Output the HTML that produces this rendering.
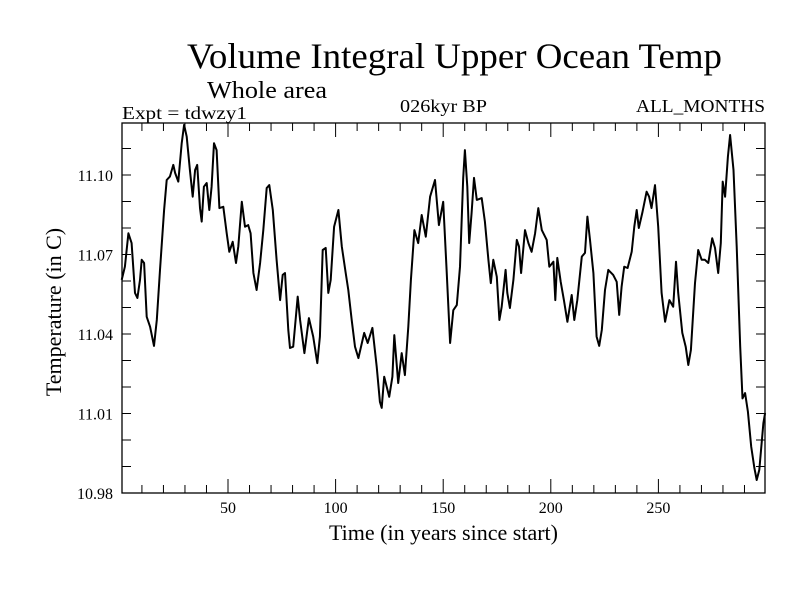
<!DOCTYPE html>
<html><head><meta charset="utf-8"><style>
body{margin:0;background:#fff}
svg text{font-family:"Liberation Serif",serif;fill:#000}
</style></head><body>
<svg id="chart" width="800" height="600" xmlns="http://www.w3.org/2000/svg">
<text x="187" y="68" font-size="36" textLength="535" lengthAdjust="spacingAndGlyphs">Volume Integral Upper Ocean Temp</text>
<text x="207" y="98" font-size="24" textLength="120" lengthAdjust="spacingAndGlyphs">Whole area</text>
<text x="122" y="119" font-size="18" textLength="125" lengthAdjust="spacingAndGlyphs">Expt = tdwzy1</text>
<text x="400" y="112" font-size="18" textLength="87" lengthAdjust="spacingAndGlyphs">026kyr BP</text>
<text x="636" y="112" font-size="18" textLength="129" lengthAdjust="spacingAndGlyphs">ALL_MONTHS</text>
<text x="329" y="540" font-size="22" textLength="229" lengthAdjust="spacingAndGlyphs">Time (in years since start)</text>
<text transform="translate(61,312) rotate(-90)" font-size="22" text-anchor="middle">Temperature (in C)</text>
<g id="axes"></g>
</svg>
<script>
const years=[0.6,2.1,3.7,5.2,6.8,7.9,9.1,9.9,11,12.2,13.8,15.6,16.9,18.4,20.3,21.5,23,24.6,25.4,26.9,28.5,29.6,30.8,32.3,33.6,34.7,35.7,37,37.8,38.8,40.1,41.3,42.4,43.5,44.7,46,47.8,49.4,50.6,52.2,53.7,54.8,56.4,57.9,59.4,60.5,61.8,63.3,64.9,66.4,68,69.2,70.8,72.6,74.2,75.4,76.5,78,78.8,80.3,82.4,83.5,85.5,87.6,89.6,91.5,92.7,94,95.4,96.6,97.7,99.3,101.3,102.9,104.7,105.9,107.5,109,110.6,113.3,114.9,117.1,119.1,120.6,121.4,122.6,124.9,126.4,127.3,129.1,130.7,132.2,133.8,135,136.6,138.4,140,141.9,143.9,146.2,148,150,151.6,153.2,154.7,156.3,157.8,159.3,160.1,161.2,162.1,163.2,164.3,165.6,167.9,169.4,171,172.1,173.3,174.9,176.1,177.2,179,179.8,181,182.6,184.2,185.2,186.2,188,189.6,191.1,192.7,194.2,195.8,198.1,199.3,201.2,202.1,203,204.6,206.1,207.7,209.7,210.9,212.3,214.4,215.9,217,218.2,219.8,221.3,222.5,223.7,225.2,226.7,229,230.6,231.8,232.9,234.1,235.7,237.6,238.8,239.9,240.9,242.5,244.5,245.7,246.8,248.4,249.9,251.5,253.1,255.1,256.9,258.2,259.2,261.1,262.7,263.9,265.1,267,268.5,270.1,271.6,273.2,275,276.3,277.8,279,279.9,281,282.3,283.3,284.9,286.4,288,289.1,290.3,291.6,293.1,294.6,295.7,296.9,298.8,299.6];
const temps=[11.0604,11.0654,11.078,11.0743,11.0555,11.0536,11.0604,11.068,11.0668,11.0465,11.0427,11.0355,11.0453,11.0642,11.0868,11.0981,11.0994,11.1038,11.1008,11.0975,11.112,11.1189,11.1145,11.1019,11.0918,11.1019,11.1038,11.0875,11.0824,11.0956,11.097,11.0868,11.0956,11.112,11.1094,11.0875,11.088,11.078,11.071,11.0748,11.0668,11.073,11.0899,11.0805,11.0811,11.078,11.063,11.0566,11.0668,11.0792,11.0951,11.0962,11.0868,11.068,11.0528,11.0623,11.063,11.0415,11.0347,11.0352,11.0541,11.0453,11.0328,11.046,11.039,11.029,11.039,11.0717,11.0725,11.0555,11.0604,11.0805,11.0868,11.073,11.063,11.0566,11.0453,11.0352,11.0309,11.0404,11.0366,11.0423,11.0277,11.0144,11.0121,11.0239,11.0163,11.0239,11.0396,11.0215,11.0328,11.0245,11.0427,11.0604,11.0792,11.0743,11.0849,11.0767,11.0918,11.0981,11.0811,11.0899,11.0642,11.0366,11.049,11.0509,11.0654,11.0989,11.1094,11.0956,11.0743,11.0857,11.0989,11.0906,11.0913,11.0824,11.068,11.0592,11.068,11.0616,11.0453,11.0503,11.0642,11.0555,11.0498,11.0604,11.0755,11.073,11.063,11.0792,11.0743,11.071,11.078,11.0875,11.0792,11.0755,11.0654,11.0673,11.0528,11.0687,11.0597,11.0528,11.0446,11.0547,11.0453,11.0528,11.0692,11.0706,11.0843,11.0755,11.063,11.039,11.0355,11.0415,11.0566,11.0642,11.0623,11.0597,11.0472,11.0578,11.0654,11.0649,11.071,11.0805,11.0868,11.08,11.0857,11.0937,11.0918,11.0875,11.0962,11.0805,11.0555,11.0446,11.0528,11.0503,11.0673,11.0555,11.0404,11.0352,11.0283,11.034,11.0592,11.0717,11.068,11.068,11.0668,11.0761,11.0725,11.063,11.0743,11.0975,11.0918,11.1069,11.1151,11.1019,11.073,11.0352,11.0157,11.0177,11.0107,10.9975,10.9894,10.9849,10.9887,11.0064,11.0102];
const xTickLabels=[50,100,150,200,250];
const yTickLabels=["11.10","11.07","11.04","11.01","10.98"];
const L=122,R=765,T=123,B=493;
const xs=v=>120.4+2.152*v;
const ys=v=>175+(11.10-v)*2650;
const NS="http://www.w3.org/2000/svg";
const g=document.getElementById('axes');
function mk(tag,attrs){const e=document.createElementNS(NS,tag);for(const k in attrs)e.setAttribute(k,attrs[k]);g.appendChild(e);return e;}
const frame=mk('rect',{x:L,y:T,width:R-L,height:B-T,fill:'none',stroke:'#000','stroke-width':1.3});


for(let v=10;v<300;v+=10){
  const x=xs(v),len=(v%50===0)?14:8;
  const t1=mk('line',{x1:x,x2:x,y1:B,y2:B-len,stroke:'#000'});
  
  
  const t2=mk('line',{x1:x,x2:x,y1:T,y2:T+len,stroke:'#000'});
  
  
}
xTickLabels.forEach(v=>{
  const t=mk('text',{x:xs(v),y:513,'font-size':16,'text-anchor':'middle'});
  t.textContent=v;
  
  
});
for(let i=0;i<=14;i++){
  const v=10.98+i*0.01,y=ys(v);
  if(y<T-0.5||y>B+0.5)continue;
  const t1=mk('line',{x1:L,x2:L+9,y1:y,y2:y,stroke:'#000'});
  
  
  const t2=mk('line',{x1:R,x2:R-9,y1:y,y2:y,stroke:'#000'});
  
  
}
yTickLabels.forEach(s=>{
  const t=mk('text',{x:113,y:ys(parseFloat(s))+6,'font-size':16,'text-anchor':'end'});
  t.textContent=s;
  
  
});
const pts=years.map((yr,i)=>xs(yr).toFixed(1)+','+ys(temps[i]).toFixed(1)).join(' ');
const line=mk('polyline',{points:pts,fill:'none',stroke:'#000','stroke-width':2,'stroke-linejoin':'round'});


</script>
</body></html>
